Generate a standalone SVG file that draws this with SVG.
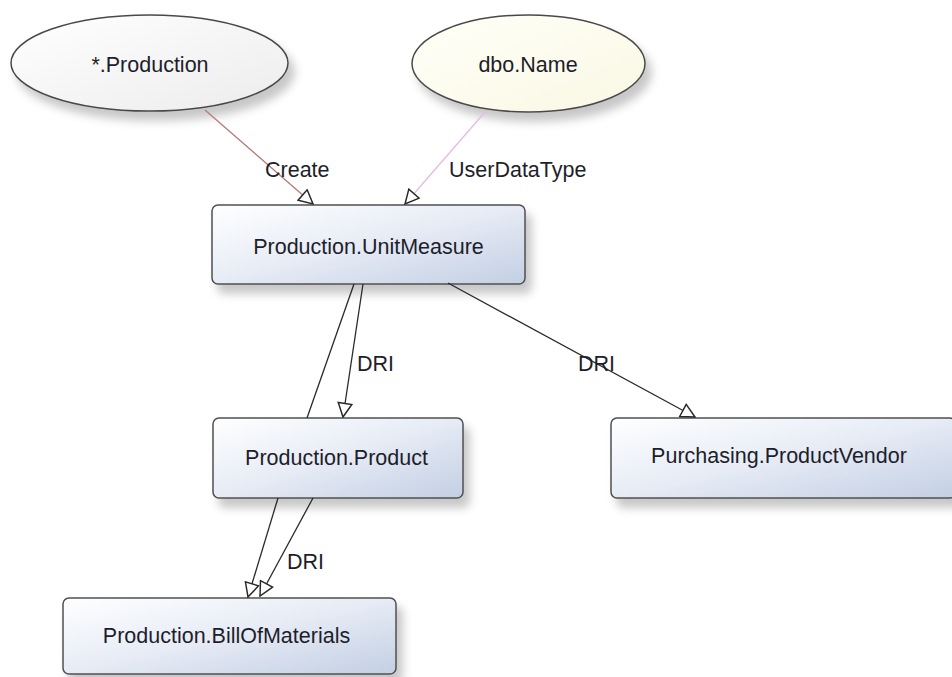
<svg xmlns="http://www.w3.org/2000/svg" width="952" height="677" viewBox="0 0 952 677">
<style>
.lbl{font-family:"Liberation Sans",Arial,sans-serif;font-size:21.5px;fill:#1e1e2a}
.nodeTxt{font-family:"Liberation Sans",Arial,sans-serif;font-size:21.5px;fill:#1e1e2a;text-anchor:middle}
.box{fill:url(#boxGrad);stroke:#505050;stroke-width:1.5}
.edge{fill:none;stroke:#2a2a2a;stroke-width:1.3}
</style>
<defs>
<linearGradient id="boxGrad" x1="0" y1="0" x2="1" y2="1">
<stop offset="0" stop-color="#ffffff"/>
<stop offset="0.5" stop-color="#e6ebf5"/>
<stop offset="1" stop-color="#c3cfe3"/>
</linearGradient>
<linearGradient id="ellGrey" x1="0" y1="0" x2="1" y2="1">
<stop offset="0" stop-color="#ffffff"/>
<stop offset="1" stop-color="#ececec"/>
</linearGradient>
<linearGradient id="ellYellow" x1="0" y1="0" x2="1" y2="1">
<stop offset="0" stop-color="#fffff8"/>
<stop offset="1" stop-color="#f9f8e4"/>
</linearGradient>
<filter id="shadow" x="-10%" y="-10%" width="130%" height="150%">
<feDropShadow dx="6" dy="9" stdDeviation="5" flood-color="#000" flood-opacity="0.22"/>
</filter>
<marker id="arrow" markerUnits="userSpaceOnUse" markerWidth="16" markerHeight="16" viewBox="0 0 14 14" refX="13" refY="7" orient="auto">
<path d="M1,1 L13,7 L1,13 z" fill="#ffffff" stroke="#2a2a2a" stroke-width="1.3"/>
</marker>
</defs>
<rect width="952" height="677" fill="#ffffff"/>

<g id="n-production">
<ellipse cx="149.5" cy="63" rx="138.5" ry="48" fill="url(#ellGrey)" stroke="#4a4a4a" stroke-width="1.5" filter="url(#shadow)"/>
<text class="nodeTxt" x="150" y="72">*.Production</text>
</g>
<g id="n-dboname">
<ellipse cx="528.5" cy="63.5" rx="116.5" ry="48.5" fill="url(#ellYellow)" stroke="#4a4a4a" stroke-width="1.5" filter="url(#shadow)"/>
<text class="nodeTxt" x="528" y="72">dbo.Name</text>
</g>
<g id="n-unitmeasure">
<rect class="box" x="212" y="205" width="313" height="79" rx="6" filter="url(#shadow)"/>
<text class="nodeTxt" x="368.5" y="254">Production.UnitMeasure</text>
</g>
<g id="n-product">
<rect class="box" x="213" y="418" width="250" height="80" rx="6" filter="url(#shadow)"/>
<text class="nodeTxt" x="336.5" y="465">Production.Product</text>
</g>
<g id="n-productvendor">
<rect class="box" x="611" y="418" width="345" height="80" rx="6" filter="url(#shadow)"/>
<text class="nodeTxt" x="779" y="463">Purchasing.ProductVendor</text>
</g>
<g id="n-billofmaterials">
<rect class="box" x="63" y="598" width="333" height="76" rx="6" filter="url(#shadow)"/>
<text class="nodeTxt" x="226.5" y="643">Production.BillOfMaterials</text>
</g>

<g id="connectors">
<line x1="205" y1="110" x2="313" y2="204" stroke="#b87878" stroke-width="1.3" marker-end="url(#arrow)"/>
<line x1="485" y1="112" x2="405" y2="204" stroke="#e4bce4" stroke-width="1.3" marker-end="url(#arrow)"/>
<line class="edge" x1="354" y1="284" x2="307" y2="418"/>
<line class="edge" x1="363" y1="284" x2="343" y2="417" marker-end="url(#arrow)"/>
<line class="edge" x1="448" y1="283" x2="695" y2="417" marker-end="url(#arrow)"/>
<line class="edge" x1="278" y1="498" x2="248" y2="597" marker-end="url(#arrow)"/>
<line class="edge" x1="313" y1="498" x2="260" y2="596" marker-end="url(#arrow)"/>
<text class="lbl" x="265" y="177">Create</text>
<text class="lbl" x="449" y="177">UserDataType</text>
<text class="lbl" x="357" y="371">DRI</text>
<text class="lbl" x="578" y="371">DRI</text>
<text class="lbl" x="287" y="569">DRI</text>
</g>
</svg>
